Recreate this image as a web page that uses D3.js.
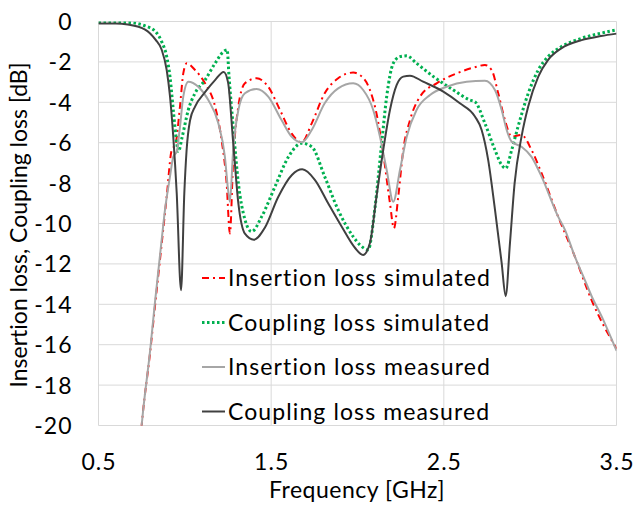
<!DOCTYPE html>
<html>
<head>
<meta charset="utf-8">
<script src="https://cdnjs.cloudflare.com/ajax/libs/d3/7.8.5/d3.min.js"></script>
<style>
  body { margin: 0; background: #fff; }
  text { font-family: Lato, "Open Sans", sans-serif; fill: #000; font-variant-ligatures: none; font-feature-settings: "liga" 0; }
</style>
</head>
<body>
<div id="chart"></div>
<script>
// frequency ticks (GHz) and dB ticks
var freqTicks = [0.5, 1.5, 2.5, 3.5];
var dbTicks = [0, -2, -4, -6, -8, -10, -12, -14, -16, -18, -20];

var seriesNames = [
  "Insertion loss simulated",
  "Coupling loss simulated",
  "Insertion loss measured",
  "Coupling loss measured"
];

// [frequency GHz, dB]
var insertionSimulated = [
  [0.74, -21], [0.75, -20], [0.8, -16.3], [0.827, -14.1], [0.866, -11], [0.895, -8.67],
  [0.924, -6.36], [0.945, -6.1], [0.972, -4.2], [0.991, -2.57], [1.011, -2.07],
  [1.059, -2.4], [1.117, -3.06], [1.175, -4.2], [1.213, -5.87], [1.242, -8.0],
  [1.261, -10.49], [1.28, -6.86], [1.31, -4.2], [1.348, -3.06], [1.416, -2.81],
  [1.483, -3.23], [1.551, -4.38], [1.618, -5.54], [1.677, -5.98], [1.735, -5.04],
  [1.81, -3.55], [1.888, -2.81], [1.975, -2.53], [2.014, -2.65], [2.072, -3.39],
  [2.11, -4.55], [2.149, -6.53], [2.188, -9.0], [2.211, -10.24], [2.236, -8.67],
  [2.265, -6.36], [2.304, -4.88], [2.362, -3.72], [2.458, -3.06], [2.574, -2.57],
  [2.69, -2.24], [2.738, -2.15], [2.777, -2.4], [2.815, -3.55], [2.854, -4.88],
  [2.893, -5.7], [2.95, -5.62], [3.008, -6.36], [3.066, -7.51], [3.162, -9.66],
  [3.259, -11.64], [3.356, -13.8], [3.5, -16.2]
];

var couplingSimulated = [
  [0.5, -0.05], [0.67, -0.05], [0.77, -0.22], [0.83, -0.5], [0.866, -1.0],
  [0.895, -1.74], [0.914, -2.73], [0.933, -4.38], [0.953, -6.0], [0.962, -6.44],
  [0.985, -5.7], [1.02, -4.38], [1.059, -3.55], [1.117, -2.9], [1.175, -2.07],
  [1.223, -1.5], [1.245, -1.4], [1.256, -2.73], [1.28, -5.2], [1.31, -8.0],
  [1.348, -9.8], [1.387, -10.4], [1.445, -9.66], [1.522, -8.18], [1.6, -6.7],
  [1.677, -6.03], [1.735, -6.2], [1.81, -7.68], [1.888, -9.33], [1.975, -10.65],
  [2.014, -11.06], [2.062, -11.3], [2.1, -9.3], [2.14, -6.03], [2.169, -3.72],
  [2.207, -2.07], [2.246, -1.74], [2.285, -1.7], [2.342, -2.07], [2.44, -2.73],
  [2.555, -3.39], [2.652, -3.89], [2.68, -3.97], [2.738, -5.04], [2.796, -6.36],
  [2.835, -7.1], [2.858, -7.27], [2.893, -6.36], [2.93, -5.2], [2.989, -3.55],
  [3.047, -2.4], [3.104, -1.74], [3.18, -1.25], [3.298, -0.83], [3.41, -0.58],
  [3.5, -0.42]
];

var insertionMeasured = [
  [0.74, -21], [0.75, -20], [0.8, -16.2], [0.827, -13.9], [0.866, -10.8], [0.885, -9.33],
  [0.914, -7.68], [0.933, -6.7], [0.953, -6.44], [0.972, -5.2], [0.991, -3.72],
  [1.02, -2.98], [1.078, -3.23], [1.136, -3.89], [1.194, -5.04], [1.232, -6.7],
  [1.25, -8.3], [1.261, -8.92], [1.28, -6.36], [1.31, -4.38], [1.348, -3.55],
  [1.416, -3.34], [1.483, -3.72], [1.56, -4.88], [1.618, -5.7], [1.677, -5.98],
  [1.735, -5.37], [1.81, -4.05], [1.888, -3.31], [1.975, -3.06], [2.033, -3.39],
  [2.091, -4.38], [2.13, -5.7], [2.169, -7.35], [2.207, -8.92], [2.246, -7.35],
  [2.285, -5.7], [2.342, -4.38], [2.42, -3.64], [2.516, -3.23], [2.632, -2.98],
  [2.738, -2.93], [2.796, -3.39], [2.835, -4.38], [2.864, -5.37], [2.893, -5.95],
  [2.95, -6.2], [3.008, -6.7], [3.066, -7.68], [3.162, -9.66], [3.201, -10.3],
  [3.259, -11.64], [3.317, -12.8], [3.356, -13.6], [3.414, -14.6], [3.5, -16.3]
];

var couplingMeasured = [
  [0.5, -0.1], [0.6, -0.1], [0.67, -0.15], [0.77, -0.4], [0.83, -0.9], [0.866, -1.4],
  [0.895, -2.4], [0.914, -3.7], [0.933, -5.7], [0.953, -8.5], [0.978, -13.3],
  [0.997, -8.5], [1.01, -6.4], [1.03, -4.9], [1.06, -4.2], [1.117, -3.5],
  [1.175, -2.9], [1.225, -2.5], [1.25, -3.0], [1.28, -6.0], [1.31, -9.0],
  [1.348, -10.5], [1.40, -10.8], [1.464, -10.2], [1.54, -8.7], [1.62, -7.6],
  [1.68, -7.32], [1.754, -7.85], [1.83, -9.0], [1.908, -10.15], [1.985, -11.2],
  [2.033, -11.56], [2.072, -10.97], [2.11, -8.67], [2.149, -6.36], [2.188, -4.38],
  [2.227, -3.14], [2.265, -2.73], [2.304, -2.68], [2.38, -2.98], [2.497, -3.47],
  [2.593, -4.05], [2.68, -4.7], [2.719, -5.37], [2.757, -6.86], [2.796, -9.3],
  [2.835, -11.96], [2.858, -13.6], [2.883, -10.97], [2.91, -8.0], [2.95, -5.7],
  [2.989, -4.2], [3.047, -2.73], [3.104, -1.9], [3.18, -1.33], [3.298, -0.92],
  [3.41, -0.72], [3.5, -0.6]
];

var width = 633;
var height = 507;
var margin = { top: 21.5, right: 16.5, bottom: 81.5, left: 98.5 };
var innerWidth = width - margin.left - margin.right;
var innerHeight = height - margin.top - margin.bottom;

var svg = d3.select("#chart")
  .append("svg")
  .attr("width", width)
  .attr("height", height);

var g = svg.append("g")
  .attr("transform", "translate(" + margin.left + "," + margin.top + ")");

var x = d3.scaleLinear().domain([0.5, 3.5]).range([0, innerWidth]);
var y = d3.scaleLinear().domain([-20, 0]).range([innerHeight, 0]);

// grid lines
g.selectAll(".hgrid")
  .data(dbTicks)
  .enter()
  .append("line")
  .attr("x1", 0)
  .attr("x2", innerWidth)
  .attr("y1", function(d) { return y(d); })
  .attr("y2", function(d) { return y(d); })
  .attr("stroke", "#d9d9d9")
  .attr("stroke-width", 1);

g.selectAll(".vgrid")
  .data(freqTicks)
  .enter()
  .append("line")
  .attr("x1", function(d) { return x(d); })
  .attr("x2", function(d) { return x(d); })
  .attr("y1", 0)
  .attr("y2", innerHeight)
  .attr("stroke", "#d9d9d9")
  .attr("stroke-width", 1);

// tick labels (plain hyphen like the original, not unicode minus)
var yAxis = g.append("g")
  .call(d3.axisLeft(y).tickValues(dbTicks).tickSize(0).tickPadding(26)
    .tickFormat(function(d) { return d < 0 ? "-" + Math.abs(d) : String(d); }));
yAxis.select(".domain").remove();
yAxis.selectAll("text")
  .style("font-size", "23px")
  .style("font-family", "Lato, sans-serif")
  .style("letter-spacing", "1px")
  .attr("fill", "#000")
  .attr("dy", "0.35em");

var xAxis = g.append("g")
  .attr("transform", "translate(0," + innerHeight + ")")
  .call(d3.axisBottom(x).tickValues(freqTicks).tickSize(0).tickFormat(d3.format(".1f")));
xAxis.select(".domain").remove();
xAxis.selectAll("text")
  .style("font-size", "23px")
  .style("font-family", "Lato, sans-serif")
  .style("letter-spacing", "1px")
  .attr("fill", "#000")
  .attr("y", 44.5)
  .attr("dy", 0);

// axis titles
svg.append("text")
  .attr("transform", "translate(27," + 225 + ") rotate(-90)")
  .attr("text-anchor", "middle")
  .style("font-size", "23px")
  .text("Insertion loss, Coupling loss [dB]");

svg.append("text")
  .attr("x", 357)
  .attr("y", 498)
  .attr("text-anchor", "middle")
  .style("font-size", "23px")
  .style("letter-spacing", "0.5px")
  .text("Frequency [GHz]");

// series lines
var styles = [
  { data: insertionSimulated, color: "#ff0000", width: 2, dash: "7,4,2,4" },
  { data: couplingSimulated, color: "#00b050", width: 3, dash: "2.5,2.5" },
  { data: insertionMeasured, color: "#a6a6a6", width: 2, dash: null },
  { data: couplingMeasured, color: "#404040", width: 2, dash: null }
];

svg.append("clipPath")
  .attr("id", "plotclip")
  .append("rect")
  .attr("width", innerWidth)
  .attr("height", innerHeight);

var line = d3.line()
  .x(function(d) { return x(d[0]); })
  .y(function(d) { return y(d[1]); })
  .curve(d3.curveMonotoneX);

g.append("g")
  .attr("clip-path", "url(#plotclip)")
  .selectAll("path")
  .data(styles)
  .enter()
  .append("path")
  .attr("d", function(d) { return line(d.data); })
  .attr("fill", "none")
  .attr("stroke", function(d) { return d.color; })
  .attr("stroke-width", function(d) { return d.width; })
  .attr("stroke-dasharray", function(d) { return d.dash; })
  .attr("stroke-linejoin", "round");

// legend
var legend = svg.append("g")
  .attr("transform", "translate(202,278)");

var item = legend.selectAll(".item")
  .data(styles)
  .enter()
  .append("g")
  .attr("transform", function(d, i) { return "translate(0," + (i * 44.5) + ")"; });

item.append("line")
  .attr("x1", 0)
  .attr("x2", 23)
  .attr("stroke", function(d) { return d.color; })
  .attr("stroke-width", function(d) { return d.width; })
  .attr("stroke-dasharray", function(d) { return d.dash; });

item.append("text")
  .attr("x", 26)
  .attr("dy", "0.35em")
  .style("font-size", "23px")
  .style("letter-spacing", "1.1px")
  .text(function(d, i) { return seriesNames[i]; });
</script>
</body>
</html>
